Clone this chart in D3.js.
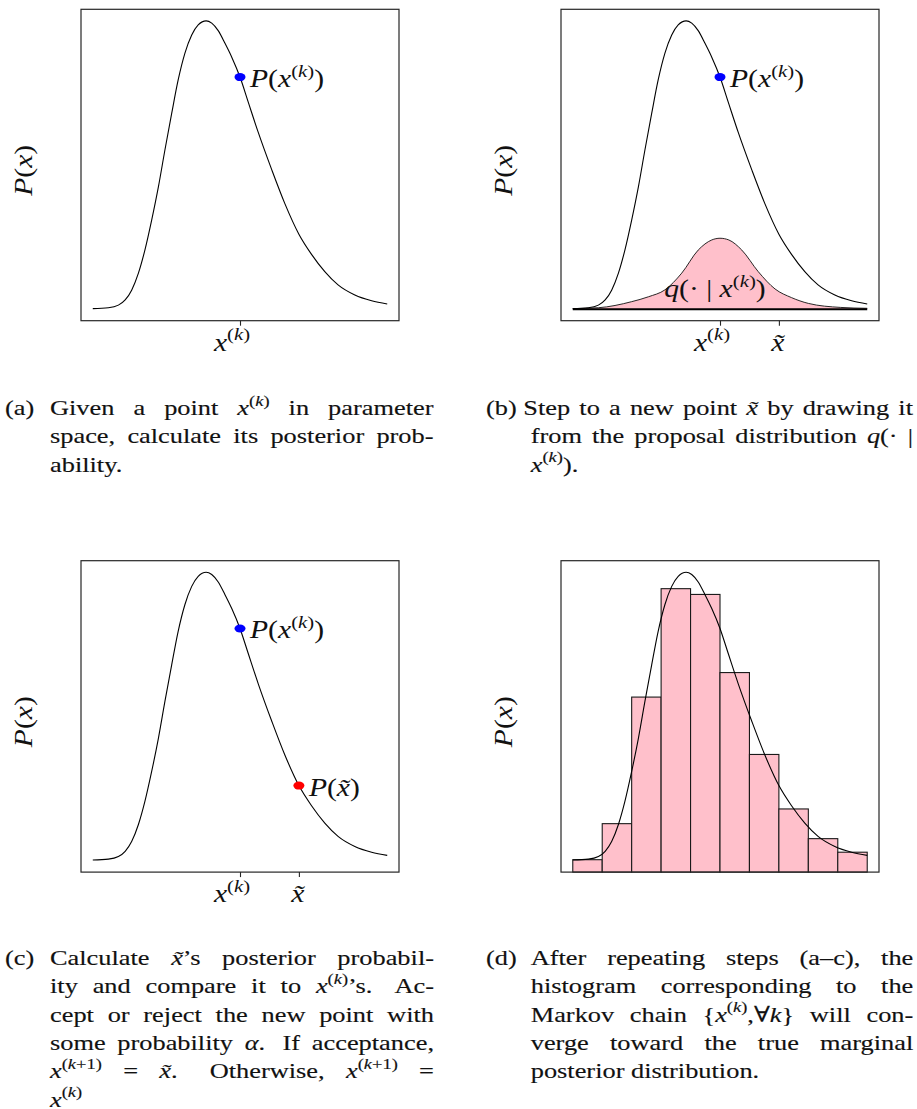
<!DOCTYPE html>
<html>
<head>
<meta charset="utf-8">
<script src="https://cdn.jsdelivr.net/npm/d3@7/dist/d3.min.js"></script>
<style>
  html, body { margin: 0; padding: 0; background: #fff; }
  svg { display: block; }
  text { white-space: pre; }
</style>
</head>
<body>
<script>
// ---- Data -------------------------------------------------------------
// Target posterior density P(x), sampled along the parameter axis
const CURVE_X = [0, 0.53, 0.87, 1.1, 1.32, 1.55, 1.77, 2.0, 2.23, 2.45, 2.68, 2.9, 3.13, 3.36, 3.58, 3.85, 4.04, 4.26, 4.49, 4.72, 5.0, 5.28, 5.62, 6.08, 6.52, 7.0, 7.43, 7.88, 8.33, 8.9, 9.47, 10.0];
const CURVE_P = [0.002, 0.005, 0.014, 0.032, 0.066, 0.125, 0.205, 0.309, 0.425, 0.552, 0.679, 0.795, 0.888, 0.951, 0.986, 1.0, 0.992, 0.966, 0.922, 0.874, 0.805, 0.718, 0.613, 0.483, 0.367, 0.260, 0.190, 0.130, 0.084, 0.049, 0.029, 0.018];

// Proposal distribution q(. | x^(k)) centred on the current point
const PROPOSAL_X = [0, 0.87, 2.0, 2.57, 3.13, 3.7, 4.26, 4.72, 5.0, 5.3, 5.74, 6.3, 6.87, 7.43, 8.0, 9.1, 10.0];
const PROPOSAL_P = [0.002, 0.005, 0.026, 0.043, 0.067, 0.125, 0.205, 0.240, 0.246, 0.240, 0.205, 0.130, 0.070, 0.040, 0.020, 0.006, 0.003];

// Histogram of the Markov chain samples
const HIST_EDGES = [0, 1, 2, 3, 4, 5, 6, 7, 8, 9, 10];
const HIST_HEIGHTS = [0.043, 0.168, 0.607, 0.983, 0.963, 0.692, 0.408, 0.219, 0.116, 0.069];

// Current and proposed points
const X_K = 5.0;
const X_TILDE = 7.0;

// ---- Text helpers -------------------------------------------------------
const FONT = "'Liberation Serif', 'DejaVu Serif', serif";
const SX = 1.21;          // horizontal widening of the serif face

const MATH = {
  x: [['x', 'i']],
  k: [['k', 'i']],
  P: [['P', 'i']],
  q: [['q', 'i']],
  a: [['\u03b1', 'i']],
  xt: [['x\u0303', 'i']],
  xk: [['x', 'i'], ['(', 's'], ['k', 'si'], [')', 's']],
  xk1: [['x', 'i'], ['(', 's'], ['k', 'si'], ['+1)', 's']]
};

function parseRuns(str) {
  const parts = str.split(/\[(\w+)\]/);
  const runs = [];
  parts.forEach((p, i) => {
    if (i % 2 === 1) runs.push(...MATH[p]);
    else if (p.length) runs.push([p, 'r']);
  });
  return runs;
}

function appendRuns(text, str, size) {
  let shift = 0;
  parseRuns(str).forEach(([t, kind]) => {
    const sup = kind[0] === 's';
    const target = sup ? -0.42 * size : 0;
    const ts = text.append('tspan').text(t)
      .attr('font-style', kind.includes('i') ? 'italic' : 'normal')
      .attr('font-size', sup ? size * 0.7 : size);
    if (target !== shift) { ts.attr('dy', target - shift); shift = target; }
  });
  return text;
}

function placeText(parent, x, y, str, size, anchor, rotate, weight) {
  const t = parent.append('text')
    .attr('transform', `translate(${x},${y})${rotate ? ` rotate(${rotate})` : ''} scale(${SX},1)`)
    .attr('text-anchor', anchor || 'start')
    .attr('font-family', FONT).attr('fill', '#111');
  if (weight) t.attr('stroke', '#111').attr('stroke-width', weight);
  return appendRuns(t, str, size);
}

// ---- Layout -------------------------------------------------------------
const W = 917, H = 1109;
const FRAME_W = 318, FRAME_H = 311.4;
const MATH_SIZE = 24.5;

const svg = d3.select('body').append('svg')
  .attr('width', W).attr('height', H)
  .attr('viewBox', `0 0 ${W} ${H}`);

const pk = CURVE_P[CURVE_X.indexOf(X_K)];
const pt = CURVE_P[CURVE_X.indexOf(X_TILDE)];

const panels = [
  { x0: 81, y0: 9.3, ticks: [[X_K, '[xk]', -8]],
    points: [{ v: X_K, p: pk, color: '#0000ff', label: '[P]([xk])' }] },
  { x0: 561, y0: 9.3, ticks: [[X_K, '[xk]', -8], [X_TILDE, '[xt]', -1]], proposal: true,
    points: [{ v: X_K, p: pk, color: '#0000ff', label: '[P]([xk])' }] },
  { x0: 81, y0: 560.7, ticks: [[X_K, '[xk]', -8], [X_TILDE, '[xt]', -1]],
    points: [{ v: X_K, p: pk, color: '#0000ff', label: '[P]([xk])' },
             { v: X_TILDE, p: pt, color: '#ff0000', label: '[P]([xt])' }] },
  { x0: 561, y0: 560.7, ticks: [], hist: true, points: [] }
];

panels.forEach(cfg => {
  const g = svg.append('g');
  const x = d3.scaleLinear().domain([-0.4, 10.4]).range([cfg.x0, cfg.x0 + FRAME_W]);
  const y = d3.scaleLinear().domain([-0.04, 1.04]).range([cfg.y0 + FRAME_H, cfg.y0]);
  const yHist = d3.scaleLinear().domain([0, 1.08]).range([cfg.y0 + FRAME_H, cfg.y0]);

  const line = d3.line().x(d => x(d[0])).y(d => y(d[1])).curve(d3.curveMonotoneX);
  const curveData = CURVE_X.map((v, i) => [v, CURVE_P[i]]);

  if (cfg.hist) {
    g.selectAll('rect.bar')
      .data(HIST_HEIGHTS)
      .join('rect')
      .attr('class', 'bar')
      .attr('x', (d, i) => x(HIST_EDGES[i]))
      .attr('width', (d, i) => x(HIST_EDGES[i + 1]) - x(HIST_EDGES[i]))
      .attr('y', d => yHist(d))
      .attr('height', d => yHist(0) - yHist(d))
      .attr('fill', '#ffc0cb')
      .attr('stroke', '#1a1a1a')
      .attr('stroke-width', 1.1);
  }

  if (cfg.proposal) {
    const qData = PROPOSAL_X.map((v, i) => [v, PROPOSAL_P[i]]);
    const area = d3.area().x(d => x(d[0])).y0(y(0)).y1(d => y(d[1])).curve(d3.curveMonotoneX);
    g.append('path').attr('d', area(qData)).attr('fill', '#ffc0cb').attr('stroke', 'none');
    g.append('path').attr('d', line(qData)).attr('fill', 'none')
      .attr('stroke', '#111').attr('stroke-width', 0.9);
  }

  g.append('path').attr('d', line(curveData))
    .attr('fill', 'none').attr('stroke', '#000').attr('stroke-width', 1.1);

  if (cfg.proposal) {
    g.append('line')
      .attr('x1', x(PROPOSAL_X[0])).attr('x2', x(PROPOSAL_X[PROPOSAL_X.length - 1]))
      .attr('y1', y(0)).attr('y2', y(0))
      .attr('stroke', '#000').attr('stroke-width', 2);
  }

  // frame
  g.append('rect')
    .attr('x', cfg.x0).attr('y', cfg.y0)
    .attr('width', FRAME_W).attr('height', FRAME_H)
    .attr('fill', 'none').attr('stroke', '#262626').attr('stroke-width', 1.2);

  // ticks
  const axis = d3.axisBottom(x)
    .tickValues(cfg.ticks.map(t => t[0]))
    .tickSize(5).tickFormat('');
  const ax = g.append('g').attr('transform', `translate(0,${cfg.y0 + FRAME_H})`).call(axis);
  ax.select('.domain').remove();
  ax.selectAll('.tick line').attr('stroke', '#262626').attr('stroke-width', 1.1);

  cfg.ticks.forEach(([v, lab, dx]) => {
    placeText(g, x(v) + dx, cfg.y0 + FRAME_H + 30, lab, MATH_SIZE, 'middle');
  });

  // y-axis title
  placeText(g, cfg.x0 - 49, cfg.y0 + 161, '[P]([x])', MATH_SIZE, 'middle', -90);

  // highlighted points
  cfg.points.forEach(pnt => {
    g.append('ellipse')
      .attr('cx', x(pnt.v)).attr('cy', y(pnt.p))
      .attr('rx', 5.5).attr('ry', 4)
      .attr('fill', pnt.color);
    placeText(g, x(pnt.v) + 10, y(pnt.p) + 10, pnt.label, MATH_SIZE);
  });

  if (cfg.proposal) {
    placeText(g, x(X_K) - 5, y(0.042), '[q](\u00b7 | [xk])', MATH_SIZE, 'middle');
  }
});

// ---- Captions -------------------------------------------------------------
const CAP_SIZE = 21.8;
const CAP_WEIGHT = 0.15;
const LINE_H = 28.3;

const captions = [
  { label: '(a)', labelX: 5, x: 50, right: 433.5, y: 415,
    lines: ['Given a point [xk] in parameter',
            'space, calculate its posterior prob-',
            'ability.'] },
  { label: '(b)', labelX: 486, x: 530.7, firstX: 523.3, right: 913, y: 415,
    lines: ['Step to a new point [xt] by drawing it',
            'from the proposal distribution [q](\u00b7 |',
            '[xk]).'] },
  { label: '(c)', labelX: 5, x: 50, right: 434, y: 965,
    lines: ['Calculate [xt]\u2019s posterior probabil-',
            'ity and compare it to [xk]\u2019s.  Ac-',
            'cept or reject the new point with',
            'some probability [a].  If acceptance,',
            '[xk1] = [xt].  Otherwise, [xk1] =',
            '[xk]'] },
  { label: '(d)', labelX: 486, x: 530.7, right: 913.3, y: 965,
    lines: ['After repeating steps (a\u2013c), the',
            'histogram corresponding to the',
            'Markov chain {[xk],\u2200[k]} will con-',
            'verge toward the true marginal',
            'posterior distribution.'] }
];

captions.forEach(cap => {
  const g = svg.append('g');
  placeText(g, cap.labelX, cap.y, cap.label, CAP_SIZE, null, null, CAP_WEIGHT);

  cap.lines.forEach((ln, i) => {
    const by = cap.y + i * LINE_H;
    const x0 = (i === 0 && cap.firstX) ? cap.firstX : cap.x;
    // words plus stretch weights (double space = wider sentence gap)
    const words = [], weights = [];
    ln.split(' ').forEach(w => {
      if (w.length) { words.push(w); weights.push(1); }
      else if (weights.length) weights[weights.length - 1] += 0.5;
    });
    const nodes = words.map(w => placeText(g, 0, by, w, CAP_SIZE, null, null, CAP_WEIGHT));
    const widths = nodes.map(n => n.node().getComputedTextLength() * SX);
    const total = d3.sum(widths);
    const gapW = weights.slice(0, -1);
    const justify = i < cap.lines.length - 1 && words.length > 1;
    const unit = justify ? (cap.right - x0 - total) / d3.sum(gapW) : CAP_SIZE * 0.3;
    let cx = x0;
    nodes.forEach((n, j) => {
      n.attr('transform', `translate(${cx},${by}) scale(${SX},1)`);
      cx += widths[j] + (j < gapW.length ? gapW[j] * unit : 0);
    });
  });
});
</script>
</body>
</html>
